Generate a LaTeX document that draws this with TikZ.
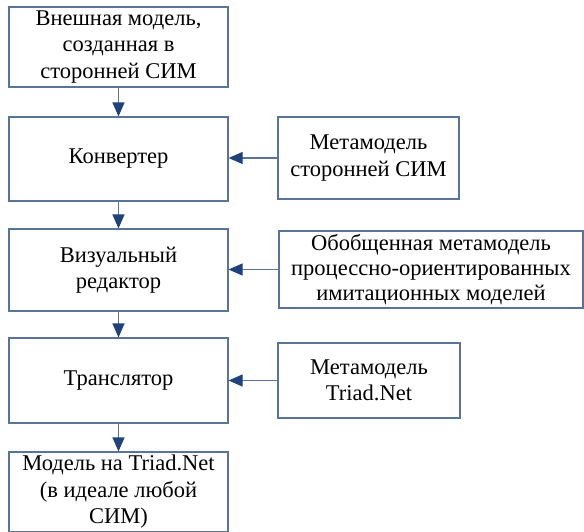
\documentclass[tikz,border=0pt]{standalone}
\usepackage{fontspec}
\setmainfont{Liberation Serif}
\newfontfamily\serfam{Liberation Serif}
\usetikzlibrary{arrows.meta}
\definecolor{boxcol}{HTML}{5A7398}
\definecolor{arrcol}{HTML}{1F427A}
\begin{document}
\begin{tikzpicture}[x=1pt,y=-1pt,
  blk/.style={draw=boxcol, line width=1.2pt, inner sep=0pt, align=center,
    font=\serfam\fontsize{22.5}{26.5}\selectfont, text=black},
  conn/.style={draw=boxcol, line width=1.2pt, -{Triangle[length=14pt,width=12pt,fill=arrcol,color=arrcol]}}]
\useasboundingbox (0,0) rectangle (584,531);
\node[blk, minimum width=219pt, minimum height=80pt] (ext) at (118.5,47) {Внешная модель,\\созданная в\\сторонней СИМ};
\node[blk, minimum width=219pt, minimum height=84pt] (conv) at (118.5,159) {Конвертер};
\node[blk, minimum width=219pt, minimum height=82pt] (vis) at (118.5,270) {Визуальный\\редактор};
\node[blk, minimum width=219pt, minimum height=85pt] (tr) at (118.5,380.5) {Транслятор};
\node[blk, minimum width=219pt, minimum height=80pt] (res) at (118.5,492) {Модель на Triad.Net\\(в идеале любой\\СИМ)};
\node[blk, minimum width=181pt, minimum height=82pt] (m1) at (368.5,158) {Метамодель\\сторонней СИМ};
\node[blk, minimum width=304pt, minimum height=77pt, font=\serfam\fontsize{22.5}{25}\selectfont] (m2) at (431,269.5) {Обобщенная метамодель\\процессно-ориентированных\\имитационных моделей};
\node[blk, minimum width=182pt, minimum height=75pt] (m3) at (369,380.5) {Метамодель\\Triad.Net};
\draw[conn] (ext) -- (conv);
\draw[conn] (conv) -- (vis);
\draw[conn] (vis) -- (tr);
\draw[conn] (tr) -- (res);
\draw[conn] (m1.west) -- (m1.west -| conv.east);
\draw[conn] (m2.west) -- (m2.west -| vis.east);
\draw[conn] (m3.west) -- (m3.west -| tr.east);
\end{tikzpicture}
\end{document}
